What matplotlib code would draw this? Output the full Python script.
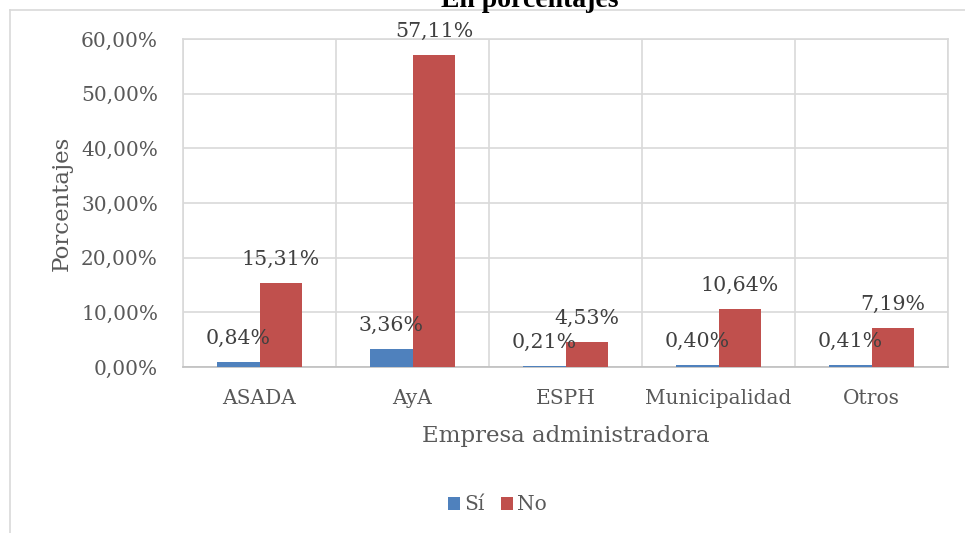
import numpy as np
import matplotlib.pyplot as plt
from matplotlib.lines import Line2D
from matplotlib.ticker import FuncFormatter

# datos
empresas = ['ASADA', 'AyA', 'ESPH', 'Municipalidad', 'Otros']
si = [0.84, 3.36, 0.21, 0.40, 0.41]
no = [15.31, 57.11, 4.53, 10.64, 7.19]
yticks = [0, 10, 20, 30, 40, 50, 60]

azul = '#4F81BD'
rojo = '#C0504D'
gris = '#595959'
fuente = 'DejaVu Serif'

fig = plt.figure(figsize=(9.65, 5.33), dpi=100)
ax = fig.add_axes([183/965, 1-367/533, (948-183)/965, (367-39)/533])

x = np.arange(len(empresas))
w = 0.28
b1 = ax.bar(x - w/2, si, w, color=azul, label='Sí', zorder=3)
b2 = ax.bar(x + w/2, no, w, color=rojo, label='No', zorder=3)

def fmt(v):
    return ('%.2f%%' % v).replace('.', ',')

for barras, vals in [(b1, si), (b2, no)]:
    for r, v in zip(barras, vals):
        ax.annotate(fmt(v), (r.get_x() + r.get_width()/2, v), xytext=(0, 17),
                    textcoords='offset points', ha='center', va='center',
                    fontsize=14.8, family=fuente, color='#404040', zorder=4)

ax.set_xlim(-0.5, len(empresas) - 0.5)
ax.set_ylim(0, 60)
ax.set_yticks(yticks)
ax.yaxis.set_major_formatter(FuncFormatter(lambda v, p: fmt(v)))
ax.set_xticks(x)
ax.set_xticklabels(empresas)
ax.set_xticks(np.arange(len(empresas) + 1) - 0.5, minor=True)
ax.grid(axis='y', color='#D9D9D9', lw=1.2, zorder=0)
ax.grid(axis='x', which='minor', color='#D9D9D9', lw=1.2, zorder=0)
ax.tick_params(axis='both', which='both', length=0, labelsize=14.5, labelcolor=gris)
ax.tick_params(axis='y', pad=18)
ax.tick_params(axis='x', pad=16)
for t in ax.get_xticklabels() + ax.get_yticklabels():
    t.set_family(fuente)
for s in ax.spines.values():
    s.set_color('#D9D9D9')
    s.set_linewidth(1.2)
ax.spines['bottom'].set_color('#BFBFBF')

ax.set_ylabel('Porcentajes', fontsize=16.5, family=fuente, color=gris, labelpad=6)
ax.set_xlabel('Empresa administradora', fontsize=16.5, family=fuente, color=gris, labelpad=12)

ax.legend(loc='center', bbox_to_anchor=(0.411, -0.42), ncol=2, frameon=False,
          prop={'family': fuente, 'size': 14.5}, labelcolor=gris, handlelength=0.6,
          handleheight=0.6, columnspacing=0.8, handletextpad=0.2)

fig.text(530/965, 1-7/533, 'En porcentajes', ha='center', va='baseline',
         fontsize=20, fontweight='bold', family='Liberation Serif')

# borde exterior del grafico
fig.add_artist(Line2D([10/965, 10/965], [0, 1-10/533], color='#D9D9D9', lw=1.2))
fig.add_artist(Line2D([10/965, 1], [1-10/533, 1-10/533], color='#D9D9D9', lw=1.2))

plt.savefig('out.png', dpi=100)
